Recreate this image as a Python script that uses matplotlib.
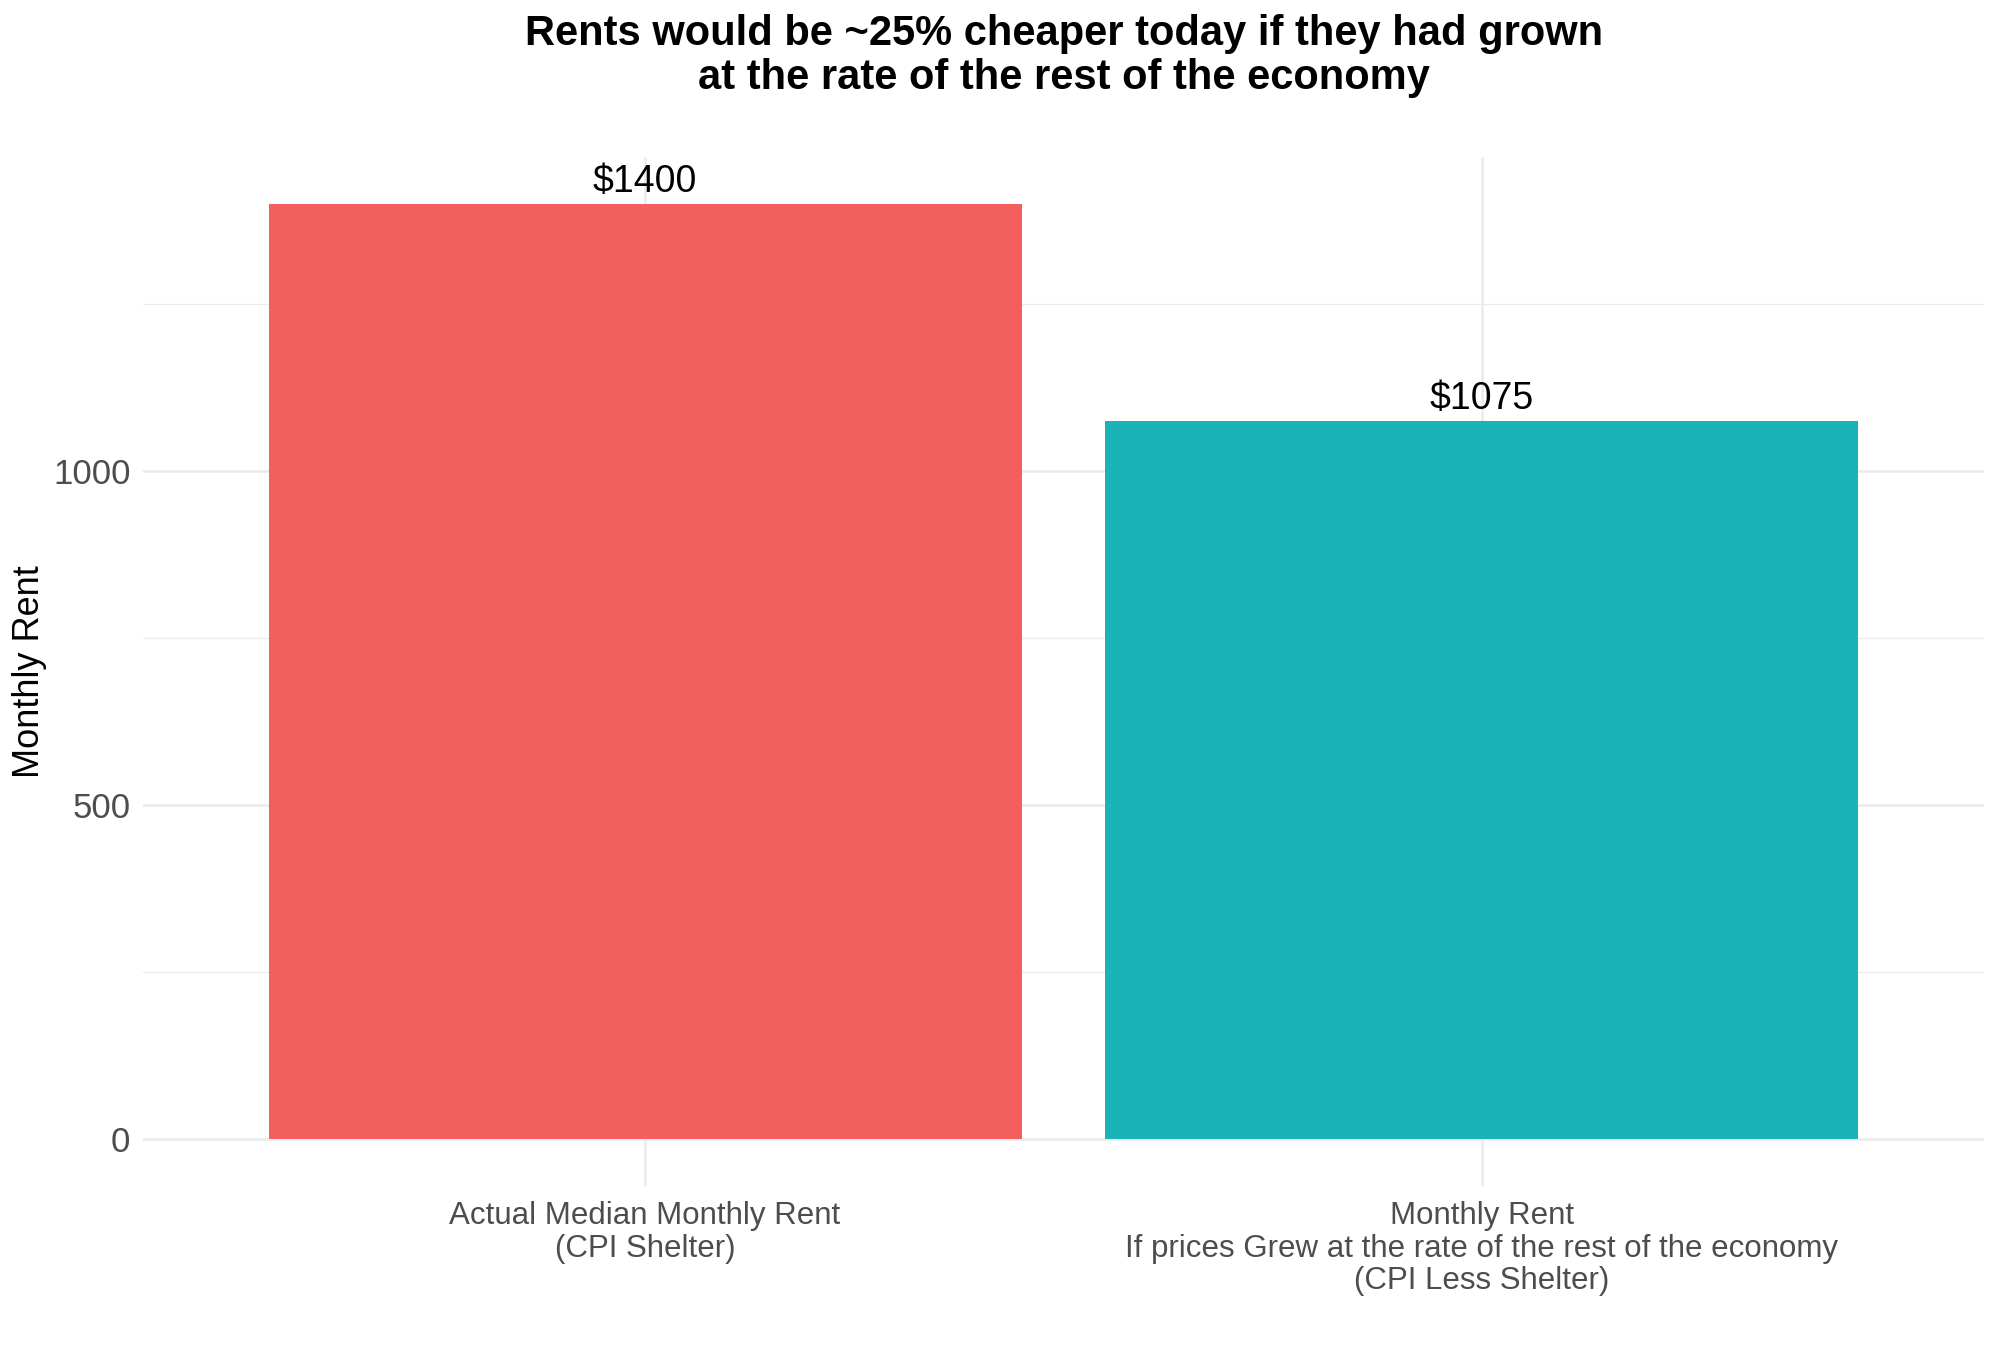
import numpy as np
import matplotlib.pyplot as plt
from matplotlib.ticker import MultipleLocator

# data
categories = ["Actual Median Monthly Rent\n(CPI Shelter)",
              "Monthly Rent\nIf prices Grew at the rate of the rest of the economy\n(CPI Less Shelter)"]
rent = [1400, 1075]
bar_labels = ["$1400", "$1075"]
bar_colors = ["#F25F5C", "#1AB3B8"]

plt.rcParams['font.family'] = ['Liberation Sans', 'DejaVu Sans']

fig = plt.figure(figsize=(20, 13.51), dpi=100)
ax = fig.add_axes([0.0715, 0.1221, 0.9205, 0.7617])

x = np.arange(1, len(rent) + 1)
ax.bar(x, rent, width=0.9, color=bar_colors, zorder=2)
for xi, v, lab in zip(x, rent, bar_labels):
    ax.annotate(lab, (xi, v), xytext=(0, 3), textcoords='offset points',
                ha='center', va='bottom', fontsize=27, color='black')

ax.set_xlim(0.4, 2.6)
ax.set_ylim(-70, 1470)
ax.set_xticks(x)
ax.set_xticklabels(categories, fontsize=22.5, color='#4D4D4D', linespacing=1.1)
ax.yaxis.set_major_locator(MultipleLocator(500))
ax.yaxis.set_minor_locator(MultipleLocator(250))
ax.tick_params(axis='y', labelsize=25, labelcolor='#4D4D4D', length=0, pad=9)
ax.tick_params(axis='x', length=0, pad=11)
ax.tick_params(which='minor', length=0)

ax.grid(True, which='major', color='#EBEBEB', lw=1.8, zorder=0)
ax.grid(True, which='minor', axis='y', color='#EBEBEB', lw=0.9, zorder=0)
ax.set_axisbelow(True)
for s in ax.spines.values():
    s.set_visible(False)

ax.set_ylabel("Monthly Rent", fontsize=26, labelpad=4)

fig.text(0.5318, 0.9585, "Rents would be ~25% cheaper today if they had grown\nat the rate of the rest of the economy",
         ha='center', va='center', fontsize=30, fontweight='bold', linespacing=1.15)

fig.savefig("out.png", dpi=100, facecolor='white')
